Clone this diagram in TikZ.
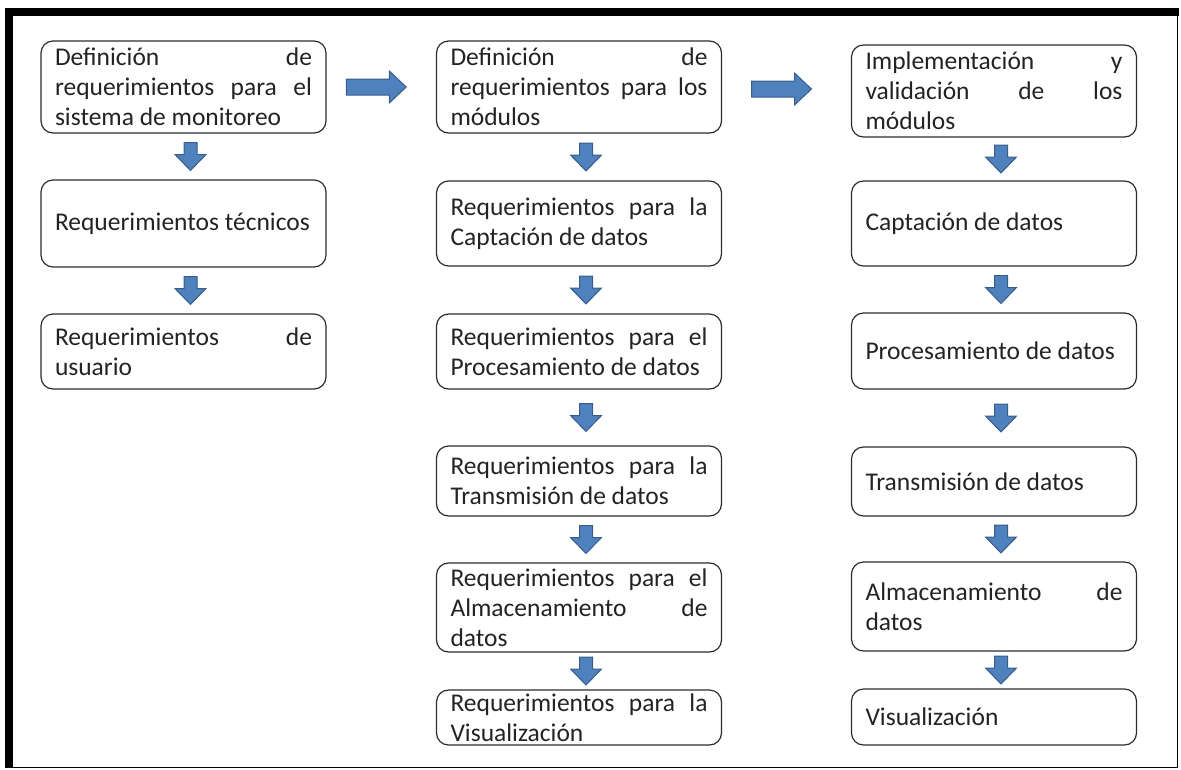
\documentclass[tikz,border=0pt]{standalone}
\usepackage{fontspec}
\setmainfont{Carlito}
\usetikzlibrary{calc}
\definecolor{arrowblue}{RGB}{79, 129, 189}
\definecolor{arrowedge}{RGB}{56, 93, 138}
\definecolor{boxedge}{RGB}{45, 45, 45}
\definecolor{boxtext}{RGB}{35, 35, 35}
\hyphenpenalty=10000
\exhyphenpenalty=10000
\tolerance=10000
\hbadness=10000

\tikzset{
  stagebox/.style={draw=boxedge, line width=1.2pt, rounded corners=12pt,
    minimum width=285pt, text width=257pt, inner xsep=14pt, inner ysep=0pt,
    align=justify, text=boxtext, font=\fontsize{25.5}{30}\selectfont},
  blockarrow/.style={fill=arrowblue, draw=arrowedge, line width=1pt, line join=miter}
}

% block arrow between two stacked boxes
\newcommand{\downblock}[2]{%
  \path ($(#1.south)!0.5!(#2.north)$) ++(7,0) coordinate (c);
  \draw[blockarrow] (c) ++(-6.5,14) -- ++(13,0) -- ++(0,-12) -- ++(9,0)
    -- ++(-15.5,-16) -- ++(-15.5,16) -- ++(9,0) -- cycle;
}
% block arrow between two columns
\newcommand{\rightblock}[2]{%
  \path ($(#1.east)!0.5!(#2.west)$) ++(-5,0) coordinate (c);
  \draw[blockarrow] (c) ++(-30,8) -- ++(43,0) -- ++(0,8) -- ++(17,-16)
    -- ++(-17,-16) -- ++(0,8) -- ++(-43,0) -- cycle;
}

\begin{document}
\begin{tikzpicture}[x=1pt, y=1pt]
  \useasboundingbox (0,0) rectangle (1181,-769);
  % frame
  \fill[black] (5,-8) rectangle (1179,-16);
  \fill[black] (5,-8) rectangle (13,-768);
  \draw[line width=1.5pt] (1177.5,-8) -- (1177.5,-768);
  \draw[line width=1.5pt] (5,-767.5) -- (1178,-767.5);

  % first column
  \node[stagebox, minimum height=92pt] (defsis) at (183.5,-87)
    {Definición de\linebreak requerimientos para el\linebreak sistema de monitoreo};
  \node[stagebox, minimum height=87pt] (tecnicos) at (183.5,-223.5)
    {Requerimientos técnicos};
  \node[stagebox, minimum height=75pt] (usuario) at (183.5,-351.5)
    {Requerimientos de\linebreak usuario};

  % second column
  \node[stagebox, minimum height=92pt] (defmod) at (579,-87)
    {Definición de\linebreak requerimientos para los\linebreak módulos};
  \node[stagebox, minimum height=85pt] (reqcap) at (579,-223.5)
    {Requerimientos para la\linebreak Captación de datos};
  \node[stagebox, minimum height=75pt] (reqpro) at (579,-351.5)
    {Requerimientos para el\linebreak Procesamiento de datos};
  \node[stagebox, minimum height=70pt] (reqtra) at (579,-481)
    {Requerimientos para la\linebreak Transmisión de datos};
  \node[stagebox, minimum height=89pt] (reqalm) at (579,-607.5)
    {Requerimientos para el\linebreak Almacenamiento de\linebreak datos};
  \node[stagebox, minimum height=55pt] (reqvis) at (579,-717.5)
    {Requerimientos para la\linebreak Visualización};

  % third column
  \node[stagebox, minimum height=92pt] (impl) at (994,-91)
    {Implementación y\linebreak validación de los\linebreak módulos};
  \node[stagebox, minimum height=85pt] (cap) at (994,-223.5)
    {Captación de datos};
  \node[stagebox, minimum height=76pt] (pro) at (994,-351)
    {Procesamiento de datos};
  \node[stagebox, minimum height=69pt] (tra) at (994,-481.5)
    {Transmisión de datos};
  \node[stagebox, minimum height=89pt] (alm) at (994,-606.5)
    {Almacenamiento de\linebreak datos};
  \node[stagebox, minimum height=56pt] (vis) at (994,-717)
    {Visualización};

  % arrows
  \rightblock{defsis}{defmod}
  \rightblock{defmod}{impl}
  \downblock{defsis}{tecnicos}
  \downblock{tecnicos}{usuario}
  \downblock{defmod}{reqcap}
  \downblock{reqcap}{reqpro}
  \downblock{reqpro}{reqtra}
  \downblock{reqtra}{reqalm}
  \downblock{reqalm}{reqvis}
  \downblock{impl}{cap}
  \downblock{cap}{pro}
  \downblock{pro}{tra}
  \downblock{tra}{alm}
  \downblock{alm}{vis}
\end{tikzpicture}
\end{document}
